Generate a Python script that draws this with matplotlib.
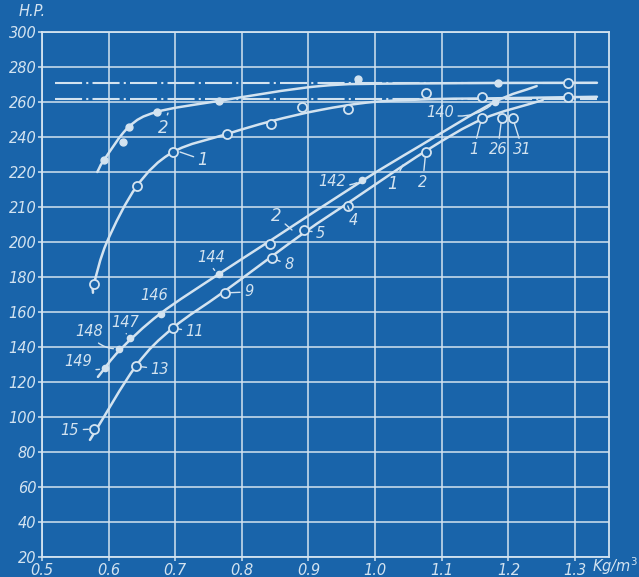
import numpy as np
import matplotlib.pyplot as plt
from matplotlib.path import Path
from matplotlib.patches import PathPatch

# y axis labels as written on the sheet (rows are evenly spaced)
hp_ticks = [20, 40, 60, 80, 100, 120, 140, 160, 180, 200, 210, 220, 240, 260, 280, 300]
hp_labels = [str(v) for v in hp_ticks]
x_ticks = [0.5, 0.6, 0.7, 0.8, 0.9, 1.0, 1.1, 1.2, 1.3]
x_labels = ["0.5", "0.6", "0.7", "0.8", "0.9", "1.0", "1.1", "1.2", "1.3"]

# rated output levels (dash-dot)
rated_hi = 271
rated_lo = 262
rated_x = [0.52, 1.333]

# top curve "2" (filled points) and its trace
c2_x = [0.593, 0.621, 0.630, 0.672, 0.765, 0.975, 1.185]
c2_y = [226.8, 237.1, 245.7, 254.3, 260.6, 273.1, 270.9]
c2_line_x = [0.583, 0.593, 0.630, 0.672, 0.765, 0.917, 1.05, 1.333]
c2_line_y = [220.0, 226.8, 245.7, 254.3, 260.6, 269.1, 270.6, 271.0]

# top curve "1" (open circles) and its trace
c1_x = [0.578, 0.6425, 0.6965, 0.7775, 0.8435, 0.890, 0.960, 1.076, 1.160, 1.289, 1.289]
c1_y = [176.0, 216.0, 231.4, 241.7, 247.4, 257.1, 256.0, 265.1, 262.9, 262.9, 270.9]
c1_line_x = [0.5765, 0.578, 0.5975, 0.6425, 0.6965, 0.7775, 0.8435, 0.917, 0.9965, 1.0925, 1.157, 1.333]
c1_line_y = [171.0, 176.0, 200.0, 216.0, 231.4, 241.7, 249.0, 255.4, 260.0, 261.7, 262.0, 263.0]

# lower diagonal (open circles, test numbers)
lo_num = ["15", "13", "11", "9", "8", "5", "4", "2", "1", "26", "31"]
lo_x = [0.578, 0.641, 0.6965, 0.7745, 0.845, 0.893, 0.959, 1.076, 1.160, 1.190, 1.2065]
lo_y = [93.1, 129.1, 150.9, 170.9, 190.9, 203.4, 210.3, 231.4, 250.9, 250.9, 250.9]
lo_line_x = [0.572, 0.641, 0.6965, 0.7745, 0.893, 0.959, 1.076, 1.1615, 1.2515]
lo_line_y = [86.9, 129.1, 150.9, 172.0, 202.6, 211.1, 232.0, 250.3, 261.1]

# upper diagonal (filled points, test numbers)
up_num = ["149", "148", "147", "146", "144", "", "142", "140"]
up_x = [0.5945, 0.6155, 0.632, 0.6785, 0.7655, 0.842, 0.980, 1.180]
up_y = [128.0, 138.9, 145.1, 158.9, 181.7, 198.9, 217.7, 260.0]
up_line_x = [0.584, 0.617, 0.677, 0.7655, 0.842, 0.980, 1.067, 1.1795, 1.2425]
up_line_y = [122.9, 138.3, 158.9, 181.7, 200.3, 217.4, 234.9, 260.0, 269.1]

bg = "#1964aa"
ink = "#d3e3f0"
hand = dict(color=ink, fontstyle="italic", fontsize=10.5)

rows = np.arange(len(hp_ticks))
to_row = lambda v: np.interp(v, hp_ticks, rows)
from_row = lambda r: np.interp(r, rows, hp_ticks)

fig = plt.figure(figsize=(6.39, 5.77), dpi=100, facecolor=bg)
ax = fig.add_axes([0.0657, 0.0347, 0.8873, 0.9098], facecolor=bg)

ax.set_yscale("function", functions=(to_row, from_row))
ax.set_xlim(0.5, 1.351)
ax.set_ylim(20, 300)
ax.set_yticks(hp_ticks, hp_labels)
ax.set_xticks(x_ticks, x_labels)
ax.minorticks_off()
ax.grid(True, color=ink, lw=1.1)
ax.set_axisbelow(True)
for s in ax.spines.values():
    s.set_color(ink)
    s.set_linewidth(1.3)
ax.tick_params(colors=ink, length=3, width=1.1, pad=1, labelsize=10.5)
for t in ax.get_xticklabels() + ax.get_yticklabels():
    t.set_fontstyle("italic")
    t.set_color(ink)


def smooth_curve(xs, ys, lw=1.8):
    # Catmull-Rom through the traced points, built in row space so the
    # bezier stays smooth on the uneven HP scale
    p = np.column_stack([xs, to_row(ys)])
    p = np.vstack([2 * p[0] - p[1], p, 2 * p[-1] - p[-2]])
    verts = [p[1]]
    codes = [Path.MOVETO]
    for i in range(1, len(p) - 2):
        verts += [p[i] + (p[i + 1] - p[i - 1]) / 6, p[i + 1] - (p[i + 2] - p[i]) / 6, p[i + 1]]
        codes += [Path.CURVE4] * 3
    verts = np.array(verts)
    verts[:, 1] = from_row(verts[:, 1])
    ax.add_patch(PathPatch(Path(verts, codes), fill=False, ec=ink, lw=lw,
                           capstyle="round", zorder=2))


ax.plot(rated_x, [rated_hi] * 2, color=ink, lw=1.5, dashes=(13, 2, 1, 2))
ax.plot(rated_x, [rated_lo] * 2, color=ink, lw=1.5, dashes=(13, 2, 1, 2))

smooth_curve(c2_line_x, c2_line_y)
ax.plot(c2_x, c2_y, "o", color=ink, ms=5, zorder=3)
smooth_curve(c1_line_x, c1_line_y)
ax.plot(c1_x, c1_y, "o", mfc=bg, mec=ink, mew=1.3, ms=6.5, zorder=3)

smooth_curve(lo_line_x, lo_line_y)
ax.plot(lo_x, lo_y, "o", mfc=bg, mec=ink, mew=1.3, ms=6.5, zorder=3)
smooth_curve(up_line_x, up_line_y)
filled = [i for i in range(len(up_x)) if up_num[i]]
ax.plot([up_x[i] for i in filled], [up_y[i] for i in filled], "o", color=ink, ms=4.5, zorder=3)
ax.plot(up_x[5], up_y[5], "o", mfc=bg, mec=ink, mew=1.3, ms=6.5, zorder=3)

lead = dict(arrowstyle="-", color=ink, lw=1.0, shrinkA=1, shrinkB=4)

# test numbers beside the points, offsets in pixels
lo_off = [(-24, -1), (24, -3), (22, -4), (24, 1), (17, -7), (17, -3), (6, -15),
          (-3, -30), (-8, -32), (-4, -32), (10, -32)]
for n, x, y, (dx, dy) in zip(lo_num, lo_x, lo_y, lo_off):
    ax.annotate(n, (x, y), xytext=(dx, dy), textcoords="offset pixels",
                ha="center", va="center", arrowprops=lead, **hand)

up_off = [(-27, 6), (-30, 17), (-5, 16), (-7, 18), (-8, 17), None, (-30, -1), (-55, -10)]
for n, x, y, off in zip(up_num, up_x, up_y, up_off):
    if not n:
        continue
    ax.annotate(n, (x, y), xytext=off, textcoords="offset pixels", ha="center", va="center",
                arrowprops=None if n == "146" else dict(lead, connectionstyle="arc3,rad=0.3"),
                **hand)

# curve identifiers
for txt, tip, pos in [("2", (168, 113), (163, 128)), ("1", (180, 152), (203, 160)),
                      ("2", (292, 230), (276, 216)), ("1", (403, 165), (393, 184))]:
    ax.annotate(txt, (tip[0], 577 - tip[1]), xycoords="figure pixels",
                xytext=(pos[0], 577 - pos[1]), textcoords="figure pixels",
                ha="center", va="center", arrowprops=dict(lead, shrinkB=0), fontsize=12,
                color=ink, fontstyle="italic")

fig.text(32 / 639, 1 - 12 / 577, "H.P.", ha="center", va="center", **hand)
fig.text(592 / 639, 1 - 566 / 577, "Kg/m$^3$", ha="left", va="center", **hand)

fig.savefig("out.png", dpi=100, facecolor=bg)
